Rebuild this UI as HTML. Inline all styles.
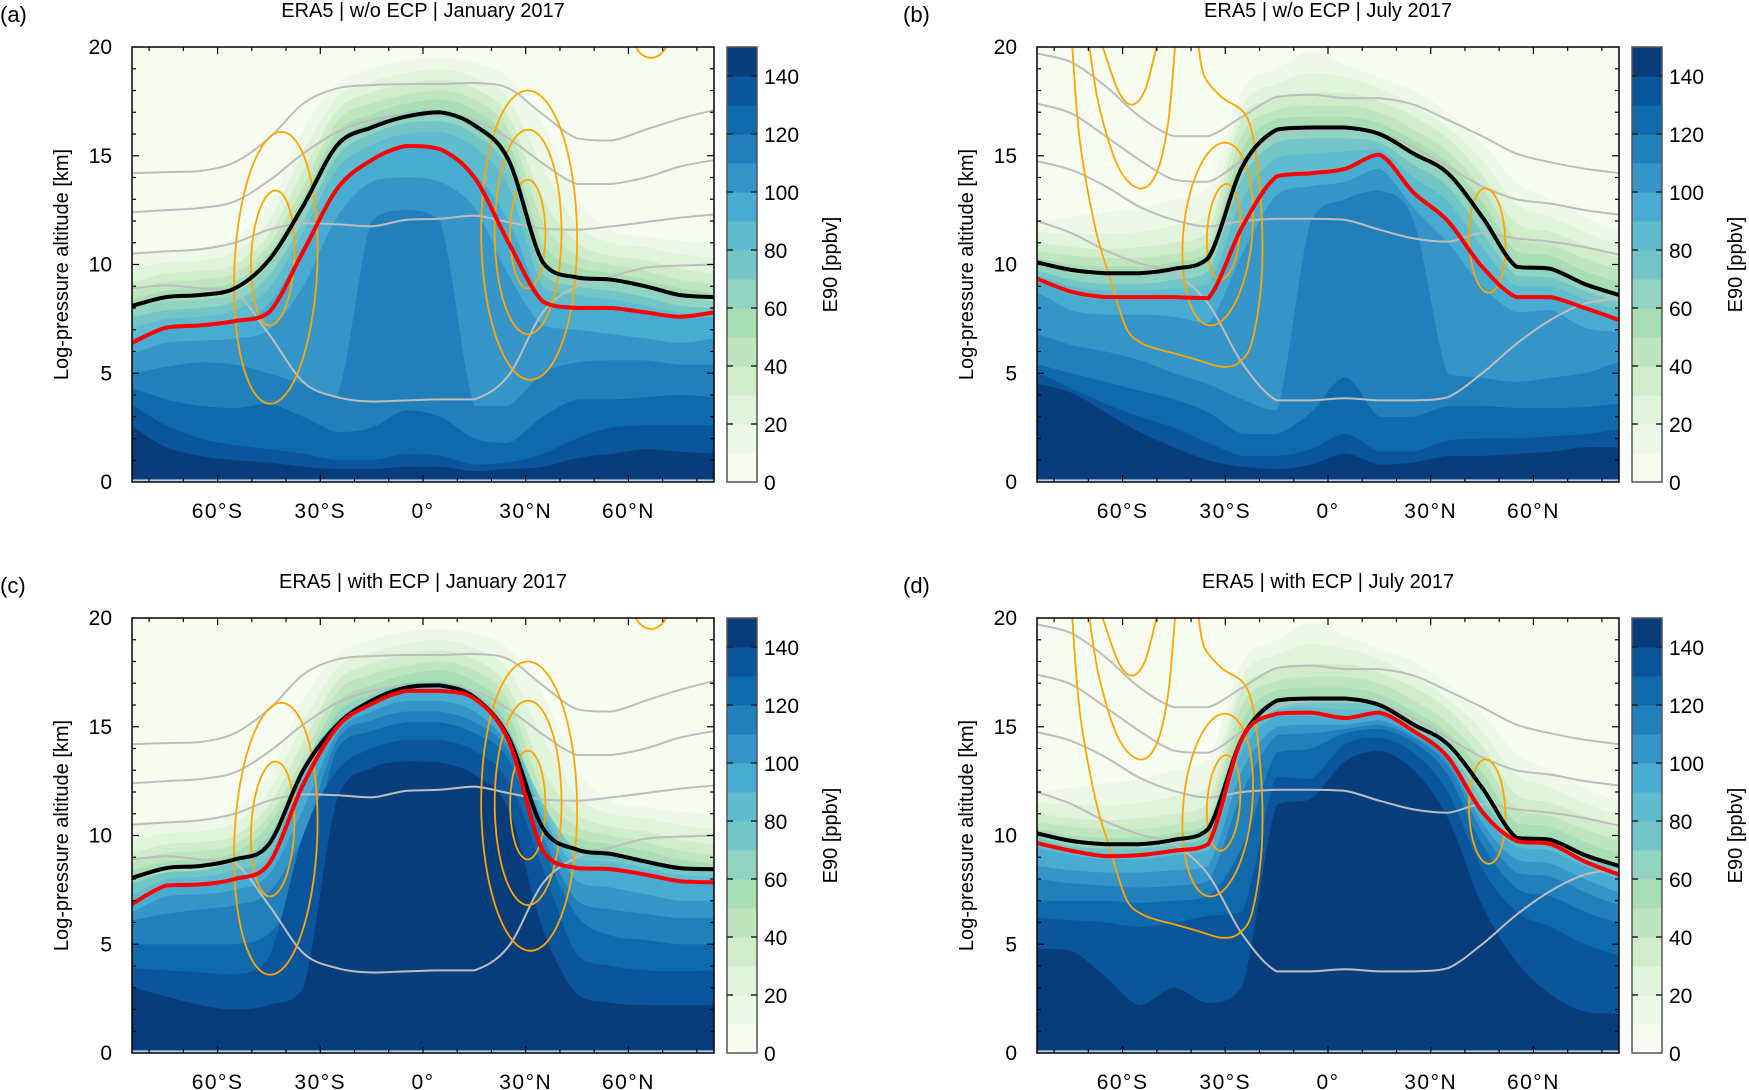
<!DOCTYPE html>
<html><head><meta charset="utf-8"><title>E90 zonal mean cross sections</title>
<style>
html,body{margin:0;padding:0;background:#fff;}
svg{display:block;font-family:"Liberation Sans",sans-serif;}
</style></head>
<body>
<svg id="fig" width="1749" height="1090" viewBox="0 0 1749 1090" xmlns="http://www.w3.org/2000/svg"></svg>
<script>
// ---------- data ----------
const lats = [-85,-75,-65,-55,-45,-35,-25,-15,-5,5,15,25,35,45,55,65,75,85];
const levelValues = [10,20,30,40,50,60,70,80,90,100,110,120,130,140];
const bandColors = ['#f7fcf0','#eef8e8','#e0f3db','#d0ecca','#bfe5bf','#a8ddb5','#8fd3c0','#74c6c6','#5fbccf','#48abd2','#3594c8','#2180bb','#0e6aad','#0a559c','#083d7c'];
const colorbarTicks = [0,20,40,60,80,100,120,140];
const altTicks = [0,5,10,15,20];
const latTickValues = [-60,-30,0,30,60];
const latTickLabels = ['60°S','30°S','0°','30°N','60°N'];

// January upper contours (10..60 ppbv), km
const janUpper = [
[10.6,10.7,10.8,11.2,12.8,16.2,18.3,19.0,19.4,19.5,19.3,18.6,16.5,13.0,11.6,11.3,11.1,11.0],
[9.8,10.1,10.2,10.6,12.0,15.2,17.7,18.4,18.8,19.0,18.6,17.6,14.5,11.8,11.0,10.8,10.5,10.3],
[9.2,9.6,9.7,10.0,11.4,14.3,17.1,17.9,18.3,18.5,18.1,16.8,13.0,11.0,10.4,10.2,9.8,9.6],
[8.8,9.2,9.3,9.6,10.9,13.6,16.6,17.4,17.8,18.0,17.6,16.2,12.0,10.4,10.0,9.7,9.3,9.1],
[8.4,8.8,8.9,9.2,10.5,13.1,16.1,16.9,17.4,17.6,17.1,15.6,11.0,9.9,9.6,9.3,8.9,8.7],
[8.0,8.3,8.4,8.7,10.0,12.5,15.6,16.5,17.0,17.1,16.6,15.0,10.3,9.4,9.2,8.9,8.5,8.3]];
// panel a lower contours (70..140 ppbv)
const panelALower = [
[7.6,7.9,8.0,8.3,9.5,12.0,15.0,16.0,16.5,16.6,16.0,14.4,9.6,9.0,8.8,8.5,8.1,8.0],
[7.1,7.5,7.6,7.9,8.9,11.5,14.4,15.5,16.0,16.1,15.4,13.6,9.0,8.6,8.4,8.1,7.8,7.7],
[6.6,7.1,7.2,7.4,8.2,10.8,13.6,14.9,15.4,15.3,14.2,12.0,8.4,8.1,8.0,7.8,7.5,7.6],
[5.9,6.4,6.5,6.6,7.0,9.0,12.2,13.8,14.0,13.8,12.6,9.5,7.2,7.0,6.8,6.6,6.4,6.6],
[5.0,5.3,5.5,5.4,5.0,4.5,4.0,12.0,12.5,12.0,3.5,3.5,5.0,5.5,5.6,5.6,5.4,5.4],
[4.3,3.8,3.5,3.4,3.6,3.0,2.3,2.5,3.3,3.0,2.0,1.8,3.0,3.8,3.8,3.9,4.0,3.9],
[3.5,2.6,2.0,1.7,1.5,1.3,1.0,1.0,1.3,1.2,0.8,0.9,1.3,2.0,2.5,2.6,2.6,2.6],
[2.5,1.6,1.2,1.0,0.9,0.7,0.6,0.6,0.7,0.7,0.5,0.6,0.7,1.1,1.3,1.5,1.4,1.3]];
// panel c lower contours
const panelCLower = [
[7.8,8.3,8.4,8.8,9.5,13.2,15.3,16.3,17.0,17.0,16.5,14.8,11.5,9.3,9.2,8.8,8.5,8.4],
[7.3,8.0,8.1,8.4,9.1,12.8,15.2,16.2,16.8,16.8,16.4,14.6,11.2,8.9,8.8,8.5,8.2,8.1],
[6.9,7.7,7.75,8.0,8.7,12.3,15.0,16.05,16.6,16.6,16.2,14.4,10.9,8.5,8.4,8.2,7.9,7.85],
[6.5,7.2,7.3,7.5,8.2,11.2,14.7,15.7,16.2,16.2,15.7,14.1,10.5,7.9,7.6,7.3,7.0,7.0],
[6.1,6.4,6.6,6.8,7.4,10.0,14.4,15.3,15.7,15.7,15.2,13.9,10.0,7.0,6.6,6.4,6.2,6.2],
[5.0,5.0,5.0,5.0,5.5,8.0,14.0,14.8,15.2,15.2,14.7,13.5,9.5,6.3,5.4,5.2,5.0,5.0],
[3.9,3.8,3.7,3.6,4.4,10.0,13.0,14.0,14.4,14.4,13.9,12.5,8.5,4.5,4.0,3.8,3.75,3.8],
[3.0,2.6,2.2,2.0,2.2,3.0,11.7,13.1,13.4,13.35,12.8,11.2,5.7,2.7,2.3,2.2,2.2,2.2]];
// July upper contours (10..60 ppbv)
const julUpper = [
[12.0,12.2,12.4,12.6,13.0,13.5,18.0,19.0,19.8,19.2,18.6,18.0,17.0,15.6,13.8,13.0,12.2,11.6],
[11.5,11.4,11.4,11.5,11.8,12.3,17.3,18.3,18.8,18.6,18.1,17.3,16.3,14.8,12.8,12.2,11.5,10.9],
[11.0,10.8,10.7,10.8,11.0,11.5,16.8,17.6,17.9,17.9,17.5,16.8,15.8,14.1,11.9,11.5,10.9,10.3],
[10.6,10.4,10.3,10.3,10.5,11.0,16.0,17.1,17.3,17.3,17.0,16.2,15.2,13.5,11.2,10.9,10.3,9.8],
[10.3,10.0,9.9,9.9,10.1,10.6,15.3,16.7,16.8,16.8,16.5,15.7,14.7,12.9,10.6,10.4,9.7,9.2],
[10.0,9.6,9.5,9.5,9.7,10.2,14.7,16.2,16.3,16.3,16.0,15.2,14.2,12.3,10.0,9.9,9.2,8.7]];
const panelBLower = [
[9.7,9.3,9.1,9.1,9.3,9.7,14.0,15.6,15.8,15.8,15.6,14.6,13.6,11.5,9.5,9.4,8.8,8.3],
[9.5,9.0,8.8,8.8,8.9,9.1,13.0,14.9,15.1,15.2,15.3,14.0,12.9,10.8,9.0,9.0,8.4,7.9],
[9.2,8.6,8.4,8.4,8.4,8.4,11.8,14.0,14.2,14.4,15.0,13.3,12.0,9.9,8.5,8.5,8.0,7.4],
[8.7,7.9,7.7,7.7,7.6,7.3,10.5,13.2,13.6,13.8,14.4,12.6,11.0,9.0,7.8,7.9,7.1,6.9],
[6.8,6.3,6.0,5.6,5.0,4.5,3.8,3.3,12.0,13.0,13.4,12.0,5.0,4.8,4.6,4.8,5.0,5.5],
[5.4,5.0,4.6,4.2,3.8,3.2,2.2,2.2,3.2,4.8,3.0,3.0,3.5,3.5,3.4,3.4,3.45,3.6],
[5.0,4.3,3.6,3.0,2.5,1.8,1.2,1.2,1.5,2.2,1.4,1.4,1.9,2.0,2.0,2.1,2.2,2.4],
[4.5,4.1,3.2,2.3,1.6,1.0,0.7,0.6,0.8,1.3,0.8,0.9,1.2,1.2,1.3,1.4,1.6,1.6]];
const panelDLower = [
[9.9,9.5,9.4,9.4,9.6,10.0,14.5,16.0,16.1,16.1,15.9,15.0,14.0,11.7,9.8,9.7,9.0,8.5],
[9.7,9.4,9.2,9.2,9.4,9.7,14.4,15.8,15.9,15.8,15.8,14.9,13.8,11.3,9.7,9.6,8.9,8.4],
[9.4,9.1,8.9,8.9,9.1,9.3,13.9,15.5,15.5,15.3,15.55,14.75,13.55,11.0,9.5,9.3,8.6,8.0],
[8.6,8.4,8.3,8.3,8.4,8.6,13.0,15.0,15.1,15.1,15.3,14.6,13.4,10.6,8.9,8.7,8.0,7.4],
[8.0,7.8,7.7,7.6,7.7,7.9,12.0,14.6,14.7,14.9,15.1,14.5,13.2,10.2,8.3,8.1,7.4,6.8],
[7.0,7.0,7.0,6.9,7.0,7.2,9.5,13.8,14.0,14.7,14.9,14.3,12.8,9.6,7.6,7.2,6.5,6.0],
[6.2,6.1,6.0,5.8,6.0,6.3,6.5,12.7,12.6,14.2,14.5,13.8,12.0,8.5,6.5,5.8,5.0,4.5],
[4.8,4.7,3.5,2.2,3.0,2.3,3.1,11.4,11.7,13.4,13.9,13.0,10.8,6.8,4.2,2.7,1.9,1.8]];

// tropopause lines (km)
const blackA = [8.1,8.5,8.6,8.9,10.2,12.7,15.5,16.3,16.8,17.0,16.4,14.8,10.1,9.4,9.3,9.0,8.6,8.5];
const redA   = [6.4,7.1,7.2,7.4,7.8,10.6,13.5,14.8,15.45,15.3,14.0,11.0,8.3,8.0,8.0,7.8,7.6,7.8];
const blackC = [8.05,8.5,8.6,8.9,9.6,13.0,15.1,16.2,16.8,16.9,16.35,14.5,10.35,9.35,9.15,8.8,8.5,8.45];
const redC   = [6.85,7.7,7.75,8.0,8.7,12.35,15.0,16.05,16.65,16.65,16.3,14.35,9.3,8.5,8.45,8.2,7.9,7.85];
const blackB = [10.1,9.75,9.6,9.6,9.8,10.3,14.5,16.2,16.3,16.3,16.0,15.1,14.2,12.2,9.9,9.8,9.1,8.6];
const redB   = [9.35,8.75,8.5,8.5,8.5,8.45,11.75,14.05,14.2,14.4,15.05,13.3,12.0,9.9,8.5,8.5,8.0,7.45];
const blackD = [10.1,9.75,9.6,9.6,9.8,10.3,14.5,16.2,16.3,16.3,16.0,15.1,14.2,12.2,9.9,9.8,9.1,8.6];
const redD   = [9.65,9.3,9.05,9.1,9.3,9.6,14.5,15.6,15.65,15.4,15.65,14.8,13.6,11.1,9.75,9.6,8.8,8.2];

// gray isentropes (km)
const janGray = [
[14.2,14.25,14.3,14.7,15.8,17.4,18.1,18.25,18.3,18.3,18.35,18.1,16.9,15.8,15.7,16.2,16.7,17.1],
[12.4,12.5,12.6,12.9,13.85,15.1,16.1,16.65,16.9,16.9,16.65,15.8,14.65,13.7,13.7,14.0,14.5,14.8],
[10.5,10.6,10.7,11.0,11.6,11.9,11.85,11.75,12.05,12.1,12.25,11.95,11.65,11.6,11.75,11.95,12.15,12.3],
[8.9,9.05,8.9,8.75,6.8,4.6,3.9,3.7,3.75,3.8,3.8,4.9,7.8,9.0,9.45,9.85,9.95,10.0]];
const julGray = [
[19.7,19.3,18.2,16.8,15.9,15.9,16.8,17.7,17.8,17.65,17.65,17.35,16.65,15.9,15.1,14.7,14.4,14.2],
[17.4,16.95,15.9,14.8,13.9,13.8,14.8,15.9,16.2,16.2,16.05,15.4,14.5,13.6,13.0,12.8,12.5,12.3],
[14.75,14.35,13.6,12.65,12.05,11.75,12.0,12.1,12.1,12.05,11.6,11.2,11.05,11.45,11.2,11.05,10.8,10.45],
[12.0,11.45,10.65,10.05,9.6,8.2,5.45,3.75,3.75,3.85,3.75,3.75,3.9,5.0,6.35,7.45,8.2,8.45]];

// orange wind contours: ellipses (center lat, center km, half-width deg, half-height km, shear deg/km)
const janJetLat   = [-43,-43.9,31,30.7,30.6,66.6];
const janJetAlt   = [9.85,10.3,11.35,11.5,11.4,20.8];
const janJetHalfW = [12.1,6.3,14,9.75,5.15,5.6];
const janJetHalfH = [6.25,3.1,6.65,4.7,2.5,1.3];
const janJetShear = [0.26,0.26,-0.06,0,0,0];
const julJetLat   = [46.5,-32.2,-30.5];
const julJetAlt   = [11.1,11.4,11.5];
const julJetHalfW = [5.3,10.1,4.8];
const julJetHalfH = [2.4,4.2,2.2];
const julJetShear = [-0.2,0.5,0.4];
// July polar jet open contours (lat, km)
const julPolarOuterLat = [-74.7,-72.5,-68,-63.5,-59,-54.6,-49.5,-44.5,-37.8,-31.1,-26,-22.1,-19.3,-19.9,-23.3,-31.1,-36.1,-37.8];
const julPolarOuterAlt = [20.0,15.7,11.7,9.3,7.1,6.4,6.1,5.9,5.6,5.3,5.5,6.5,9.6,13.4,16.65,17.7,18.65,20];
const julPolarMidLat = [-69.7,-66.9,-61.3,-55.1,-50.1,-46.7,-44.7];
const julPolarMidAlt = [20,17.3,14.5,13.5,14.2,16.5,20];
const julPolarInLat = [-65.8,-61.3,-57.4,-53.5,-50.1];
const julPolarInAlt = [20,18.0,17.35,18.0,20];

// ---------- drawing ----------
const NS = 'http://www.w3.org/2000/svg';
const svg = document.getElementById('fig');
function mk(tag, attrs, parent){
  const e = document.createElementNS(NS, tag);
  for (const k in attrs) e.setAttribute(k, attrs[k]);
  (parent||svg).appendChild(e);
  return e;
}
function clamp(v,a,b){const lo=Math.min(a,b),hi=Math.max(a,b);return Math.max(lo,Math.min(hi,v));}
function crPath(pts, noClamp){
  let d = 'M' + pts[0][0].toFixed(1) + ',' + pts[0][1].toFixed(1);
  for (let i=0;i<pts.length-1;i++){
    const p0 = pts[i-1]||pts[i], p1=pts[i], p2=pts[i+1], p3=pts[i+2]||pts[i+1];
    const c1x = p1[0]+(p2[0]-p0[0])/6; let c1y = p1[1]+(p2[1]-p0[1])/6;
    const c2x = p2[0]-(p3[0]-p1[0])/6; let c2y = p2[1]-(p3[1]-p1[1])/6;
    if(!noClamp){ c1y = clamp(c1y,p1[1],p2[1]); c2y = clamp(c2y,p1[1],p2[1]); }
    d += 'C'+c1x.toFixed(1)+','+c1y.toFixed(1)+' '+c2x.toFixed(1)+','+c2y.toFixed(1)+' '+p2[0].toFixed(1)+','+p2[1].toFixed(1);
  }
  return d;
}

const W = 582, H = 435;
function drawPanel(idx, x0, y0, title, letter, upper, lower, black, red, gray, jet, polar){
  const x1 = x0+W, y1 = y0+H;
  const X = lat => x0 + (lat+85)/170*W;
  const Y = km => y1 - km/20*H;
  const g = mk('g', {});
  
  
  const clipId = 'clip'+idx;
  const cp = mk('clipPath', {id: clipId}, g);
  mk('rect', {x:x0, y:y0, width:W, height:H}, cp);
  const field = mk('g', {'clip-path':'url(#'+clipId+')'}, g);
  
  
  const bg = mk('rect', {x:x0, y:y0, width:W, height:H, fill:bandColors[0]}, field);
  
  
  const contours = upper.concat(lower);
  contours.forEach((arr, k) => {
    const pts = lats.map((la,i)=>[X(la), Y(arr[i])]);
    pts.unshift([x0-20, Y(arr[0])]); pts.push([x1+20, Y(arr[arr.length-1])]);
    const d = crPath(pts) + 'L'+(x1+20)+','+(y1+5)+'L'+(x0-20)+','+(y1+5)+'Z';
    const p = mk('path', {d:d, fill:bandColors[k+1]}, field);
    
    
  });
  const strip = mk('rect', {x:x0, y:Y(0.12), width:W, height:Y(0)-Y(0.12), fill:'#b7d2ea'}, field);
  
  
  gray.forEach((arr,k)=>{
    const p = mk('path', {d:crPath(lats.map((la,i)=>[X(la),Y(arr[i])])), fill:'none', stroke:'#bdbdbd', 'stroke-width':2}, field);
    
    
  });
  jet.lat.forEach((c,k)=>{
    const pts=[];
    for(let t=0;t<=72;t++){
      const a=t/72*2*Math.PI;
      const km = jet.alt[k] + jet.hh[k]*Math.sin(a);
      const la = c + jet.hw[k]*Math.cos(a) + jet.sh[k]*(km-jet.alt[k]);
      pts.push([X(la),Y(km)]);
    }
    const p = mk('path', {d:crPath(pts,true), fill:'none', stroke:'#ffa500', 'stroke-width':1.8}, field);
    
    
  });
  polar.forEach(pl=>{
    const p = mk('path', {d:crPath(pl[0].map((la,i)=>[X(la),Y(pl[1][i])]),true), fill:'none', stroke:'#ffa500', 'stroke-width':1.8}, field);
    
    
  });
  const pb = mk('path', {d:crPath(lats.map((la,i)=>[X(la),Y(black[i])])), fill:'none', stroke:'#000', 'stroke-width':4, 'stroke-linejoin':'round'}, field);
  
  
  const pr = mk('path', {d:crPath(lats.map((la,i)=>[X(la),Y(red[i])])), fill:'none', stroke:'#ff0000', 'stroke-width':4, 'stroke-linejoin':'round'}, field);
  
  
  const fr = mk('rect', {x:x0, y:y0, width:W, height:H, fill:'none', stroke:'#000', 'stroke-width':1.5}, g);
  
  
  for(let la=-80; la<=80; la+=10){
    const L = (la%30===0)?7:4;
    mk('line', {x1:X(la), x2:X(la), y1:y1, y2:y1-L, stroke:'#000', 'stroke-width':1.2}, g);
    mk('line', {x1:X(la), x2:X(la), y1:y0, y2:y0+L, stroke:'#000', 'stroke-width':1.2}, g);
  }
  for(let km=1; km<20; km++){
    const L = (km%5===0)?7:4;
    mk('line', {x1:x0, x2:x0+L, y1:Y(km), y2:Y(km), stroke:'#000', 'stroke-width':1.2}, g);
    mk('line', {x1:x1, x2:x1-L, y1:Y(km), y2:Y(km), stroke:'#000', 'stroke-width':1.2}, g);
  }
  altTicks.forEach(v=>{
    const t = mk('text', {x:x0-20, y:Y(v)+7, 'font-size':21, 'text-anchor':'end', fill:'#000'}, g);
    t.textContent = v;
    
    
  });
  latTickValues.forEach((v,i)=>{
    const t = mk('text', {x:X(v), y:y1+36, 'font-size':21, 'text-anchor':'middle', 'letter-spacing':1.5, fill:'#000'}, g);
    t.textContent = latTickLabels[i];
    
    
  });
  const yl = mk('text', {x:0, y:0, 'font-size':20, 'text-anchor':'middle', transform:'translate('+(x0-64)+','+(y0+H/2)+') rotate(-90)'}, g);
  yl.textContent = 'Log-pressure altitude [km]';
  
  
  const ti = mk('text', {x:(x0+x1)/2, y:y0-30, 'font-size':20, 'text-anchor':'middle'}, g);
  ti.textContent = title;
  
  
  const lt = mk('text', {x:(idx%2===0)?0:903, y:y0-25, 'font-size':22}, g);
  lt.textContent = '('+letter+')';
  
  
  const cbx = x1+13, cbw = 30;
  const cb = mk('g', {}, g);
  
  
  const CY = v => y1 - v/150*H;
  bandColors.forEach((c,k)=>{
    const r = mk('rect', {x:cbx, y:CY((k+1)*10), width:cbw, height:H/15+0.5, fill:c}, cb);
    
    
  });
  mk('rect', {x:cbx, y:y0, width:cbw, height:H, fill:'none', stroke:'#555', 'stroke-width':1.5}, cb);
  colorbarTicks.forEach(v=>{
    if(v>0){
      mk('line', {x1:cbx, x2:cbx+6, y1:CY(v), y2:CY(v), stroke:'#222', 'stroke-width':1.5}, cb);
      mk('line', {x1:cbx+cbw, x2:cbx+cbw-6, y1:CY(v), y2:CY(v), stroke:'#222', 'stroke-width':1.5}, cb);
    }
    const t = mk('text', {x:x1+50, y:CY(v)+8, 'font-size':21}, cb);
    t.textContent = v;
    
    
  });
  const ct = mk('text', {x:0, y:0, 'font-size':20, 'text-anchor':'middle', transform:'translate('+(x1+123)+','+(y0+H/2)+') rotate(-90)'}, cb);
  ct.textContent = 'E90 [ppbv]';
  
  
}

const janJet = {lat:janJetLat, alt:janJetAlt, hw:janJetHalfW, hh:janJetHalfH, sh:janJetShear};
const julJet = {lat:julJetLat, alt:julJetAlt, hw:julJetHalfW, hh:julJetHalfH, sh:julJetShear};
const julPolar = [[julPolarOuterLat,julPolarOuterAlt],[julPolarMidLat,julPolarMidAlt],[julPolarInLat,julPolarInAlt]];

drawPanel(0, 132, 47, 'ERA5 | w/o ECP | January 2017', 'a', janUpper, panelALower, blackA, redA, janGray, janJet, []);
drawPanel(1, 1037, 47, 'ERA5 | w/o ECP | July 2017', 'b', julUpper, panelBLower, blackB, redB, julGray, julJet, julPolar);
drawPanel(2, 132, 618, 'ERA5 | with ECP | January 2017', 'c', janUpper, panelCLower, blackC, redC, janGray, janJet, []);
drawPanel(3, 1037, 618, 'ERA5 | with ECP | July 2017', 'd', julUpper, panelDLower, blackD, redD, julGray, julJet, julPolar);
</script>
</body></html>
